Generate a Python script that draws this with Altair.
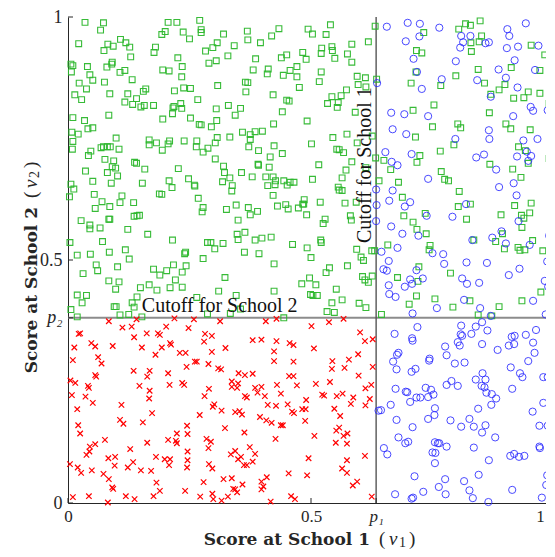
import altair as alt
import pandas as pd

# Cutoffs
P1 = 0.634
P2 = 0.381

# Students admitted to School 2 only region (green squares)
GREEN = [
    (0.035,0.989),(0.073,0.988),(0.067,0.973),(0.022,0.945),(0.108,0.954),(0.082,0.944),(0.119,0.947),(0.093,0.940),
    (0.127,0.938),(0.074,0.931),(0.006,0.903),(0.010,0.900),(0.007,0.887),(0.040,0.898),(0.091,0.907),(0.080,0.897),
    (0.090,0.903),(0.107,0.886),(0.117,0.890),(0.045,0.881),(0.051,0.870),(0.023,0.864),(0.075,0.866),(0.132,0.871),
    (0.038,0.852),(0.014,0.840),(0.028,0.830),(0.086,0.842),(0.123,0.842),(0.141,0.832),(0.117,0.825),(0.133,0.820),
    (0.150,0.815),(0.157,0.818),(0.155,0.847),(0.160,0.852),(0.176,0.818),(0.129,0.918),(0.180,0.938),(0.177,0.927),
    (0.193,0.964),(0.200,0.970),(0.206,0.989),(0.224,0.989),(0.237,0.969),(0.250,0.955),(0.226,0.916),(0.235,0.898),
    (0.195,0.891),(0.208,0.889),(0.234,0.877),(0.238,0.854),(0.252,0.853),(0.219,0.848),(0.232,0.822),(0.218,0.816),
    (0.216,0.813),(0.234,0.812),(0.215,0.801),(0.195,0.790),(0.252,0.792),(0.010,0.793),(0.034,0.787),(0.041,0.770),
    (0.051,0.772),(0.084,0.798),(0.008,0.763),(0.021,0.759),(0.010,0.744),(0.009,0.728),(0.099,0.751),(0.068,0.731),
    (0.073,0.733),(0.081,0.733),(0.087,0.733),(0.105,0.728),(0.047,0.724),(0.042,0.715),(0.076,0.707),(0.094,0.704),
    (0.091,0.692),(0.098,0.689),(0.081,0.680),(0.102,0.673),(0.137,0.701),(0.141,0.699),(0.158,0.687),(0.036,0.683),
    (0.167,0.747),(0.167,0.737),(0.182,0.741),(0.206,0.739),(0.209,0.745),(0.194,0.726),(0.239,0.745),(0.227,0.688),
    (0.006,0.656),(0.012,0.646),(0.051,0.662),(0.089,0.658),(0.153,0.658),(0.208,0.663),(0.214,0.649),(0.248,0.667),
    (0.260,0.654),
    (0.271,0.993),(0.274,0.974),(0.274,0.968),(0.320,0.965),(0.369,0.971),(0.370,0.953),(0.434,0.976),(0.419,0.961),
    (0.396,0.947),(0.307,0.947),(0.298,0.937),(0.283,0.930),(0.342,0.941),(0.329,0.920),(0.305,0.910),(0.290,0.905),
    (0.386,0.914),(0.381,0.891),(0.412,0.893),(0.410,0.883),(0.439,0.916),(0.450,0.922),(0.443,0.880),(0.457,0.890),
    (0.471,0.898),(0.471,0.877),(0.476,0.855),(0.308,0.859),(0.365,0.866),(0.370,0.865),(0.366,0.846),(0.422,0.840),
    (0.450,0.829),(0.455,0.827),(0.441,0.805),(0.267,0.830),(0.305,0.811),(0.330,0.818),(0.355,0.812),(0.344,0.798),
    (0.306,0.787),(0.295,0.774),(0.270,0.779),(0.274,0.778),(0.423,0.780),(0.359,0.763),(0.385,0.764),(0.400,0.765),
    (0.375,0.758),(0.375,0.748),(0.333,0.753),(0.307,0.752),(0.303,0.741),(0.265,0.745),(0.264,0.733),(0.288,0.730),
    (0.278,0.722),(0.372,0.733),(0.392,0.725),(0.424,0.735),(0.441,0.719),(0.416,0.712),(0.303,0.708),(0.320,0.693),
    (0.322,0.680),(0.333,0.669),(0.318,0.661),(0.338,0.653),(0.357,0.680),(0.379,0.671),(0.391,0.697),(0.392,0.695),
    (0.414,0.691),(0.407,0.671),(0.422,0.671),(0.427,0.663),(0.426,0.655),(0.411,0.653),(0.444,0.663),(0.457,0.660),
    (0.465,0.660),(0.451,0.654),(0.261,0.652),
    (0.494,0.975),(0.503,0.965),(0.540,0.984),(0.531,0.964),(0.483,0.927),(0.490,0.913),(0.522,0.936),(0.521,0.925),
    (0.543,0.939),(0.544,0.931),(0.549,0.915),(0.575,0.924),(0.584,0.944),(0.584,0.907),(0.618,0.949),(0.632,0.981),
    (0.521,0.887),(0.517,0.867),(0.595,0.878),(0.612,0.875),(0.613,0.856),(0.597,0.861),(0.573,0.850),(0.543,0.836),
    (0.562,0.838),(0.534,0.822),(0.556,0.824),(0.554,0.814),(0.591,0.804),(0.492,0.786),(0.545,0.752),(0.574,0.759),
    (0.595,0.741),(0.626,0.755),(0.501,0.739),(0.553,0.728),(0.558,0.727),(0.567,0.721),(0.584,0.702),(0.516,0.696),
    (0.503,0.666),(0.564,0.669),(0.572,0.685),(0.613,0.690),(0.556,0.650),(0.635,0.872),(0.640,0.663),(0.650,0.705),
    (0.664,0.686),(0.680,0.660),(0.633,0.710),(0.732,0.968),(0.717,0.931),(0.728,0.926),(0.706,0.864),(0.716,0.887),
    (0.767,0.859),(0.710,0.808),(0.753,0.819),(0.750,0.774),(0.715,0.753),(0.724,0.715),(0.718,0.701),(0.766,0.724),
    (0.768,0.682),(0.775,0.666),(0.783,0.663),(0.804,0.975),(0.818,0.986),(0.828,0.983),(0.848,0.992),(0.851,0.961),
    (0.829,0.947),(0.830,0.929),(0.846,0.949),(0.798,0.879),(0.844,0.892),(0.857,0.864),(0.870,0.841),(0.887,0.850),
    (0.899,0.861),(0.912,0.896),(0.917,0.833),(0.947,0.846),(0.971,0.843),(0.938,0.834),(0.990,0.822),(0.953,0.942),
    (0.981,0.922),(0.971,0.890),(0.867,0.803),(0.802,0.780),(0.808,0.772),(0.901,0.780),(0.911,0.770),(0.951,0.768),
    (0.794,0.737),(0.927,0.733),(0.941,0.725),(0.947,0.699),(0.915,0.687),(0.932,0.670),(0.868,0.697),(0.990,0.709),
    (0.003,0.630),(0.054,0.635),(0.111,0.632),(0.070,0.620),(0.086,0.610),(0.107,0.618),(0.135,0.618),(0.056,0.606),
    (0.027,0.581),(0.045,0.572),(0.045,0.564),(0.066,0.566),(0.084,0.584),(0.086,0.584),(0.123,0.563),(0.136,0.590),
    (0.142,0.591),(0.147,0.592),(0.164,0.553),(0.071,0.538),(0.004,0.536),(0.019,0.510),(0.046,0.512),(0.085,0.516),
    (0.118,0.521),(0.126,0.502),(0.058,0.490),(0.061,0.478),(0.102,0.486),(0.031,0.472),(0.084,0.457),(0.105,0.455),
    (0.098,0.440),(0.149,0.443),(0.167,0.449),
    (0.019,0.428),(0.038,0.427),(0.029,0.412),(0.006,0.398),(0.019,0.383),(0.095,0.404),(0.099,0.404),(0.107,0.387),
    (0.125,0.388),(0.132,0.412),(0.142,0.424),(0.136,0.403),(0.152,0.383),
    (0.193,0.635),(0.188,0.636),(0.268,0.627),(0.278,0.608),(0.276,0.599),(0.326,0.604),(0.346,0.613),(0.371,0.608),
    (0.375,0.593),(0.390,0.600),(0.350,0.582),(0.337,0.642),(0.422,0.633),(0.431,0.611),(0.448,0.614),(0.453,0.605),
    (0.474,0.607),(0.483,0.615),(0.486,0.624),(0.485,0.615),(0.491,0.593),(0.519,0.619),(0.570,0.617),(0.593,0.619),
    (0.558,0.644),(0.564,0.643),(0.525,0.575),(0.529,0.584),(0.581,0.591),(0.583,0.582),(0.215,0.541),(0.287,0.536),
    (0.294,0.536),(0.302,0.523),(0.319,0.534),(0.348,0.553),(0.364,0.557),(0.350,0.542),(0.385,0.541),(0.399,0.545),
    (0.418,0.547),(0.462,0.532),(0.492,0.525),(0.520,0.541),(0.521,0.536),(0.500,0.505),(0.363,0.516),(0.393,0.513),
    (0.278,0.503),(0.242,0.516),(0.240,0.513),(0.424,0.492),(0.594,0.522),(0.608,0.499),(0.603,0.506),(0.625,0.519),
    (0.631,0.519),(0.217,0.490),(0.203,0.478),(0.176,0.481),(0.189,0.469),(0.235,0.475),(0.243,0.488),(0.221,0.459),
    (0.235,0.444),(0.210,0.443),(0.183,0.438),(0.323,0.464),(0.310,0.436),(0.346,0.427),(0.424,0.436),(0.481,0.451),
    (0.497,0.463),(0.510,0.449),(0.499,0.429),(0.504,0.427),(0.513,0.427),(0.538,0.484),(0.531,0.474),(0.575,0.488),
    (0.552,0.440),(0.564,0.418),(0.543,0.412),(0.533,0.394),(0.548,0.392),(0.599,0.411),(0.613,0.402),(0.606,0.466),
    (0.611,0.459),(0.618,0.454),(0.626,0.467),(0.265,0.423),(0.287,0.389),(0.334,0.390),(0.355,0.399),(0.444,0.381),
    (0.645,0.388),(0.658,0.531),
    (0.688,0.629),(0.691,0.591),(0.710,0.578),(0.718,0.563),(0.737,0.554),(0.735,0.596),(0.745,0.530),(0.743,0.521),
    (0.805,0.641),(0.803,0.610),(0.828,0.615),(0.820,0.584),(0.891,0.593),(0.919,0.612),(0.933,0.592),(0.938,0.586),
    (0.934,0.567),(0.950,0.597),(0.953,0.617),(0.992,0.608),(0.835,0.541),(0.880,0.538),(0.894,0.554),(0.898,0.523),
    (0.926,0.526),(0.930,0.520),(0.940,0.521),(0.956,0.540),(0.977,0.519),(0.722,0.486),(0.720,0.456),(0.678,0.464),
    (0.787,0.473),
    (0.717,0.426),(0.702,0.409),(0.755,0.420),(0.792,0.403),(0.827,0.416),(0.844,0.387),(0.872,0.385),(0.887,0.404),
    (0.934,0.416),(0.973,0.434),
]

# Students with score above School 1 cutoff (blue circles)
BLUE = [
    (0.656,0.980),(0.699,0.988),(0.724,0.986),(0.764,0.978),(0.723,0.960),(0.695,0.950),(0.711,0.914),(0.809,0.961),
    (0.828,0.961),(0.813,0.948),(0.807,0.937),(0.859,0.946),(0.866,0.948),(0.904,0.975),(0.908,0.961),(0.942,0.987),
    (0.903,0.936),(0.926,0.939),(0.968,0.941),(0.798,0.909),(0.919,0.911),(0.886,0.892),(0.961,0.891),(0.901,0.875),
    (0.925,0.855),(0.842,0.870),(0.769,0.872),(0.728,0.852),(0.718,0.887),(0.636,0.864),(0.870,0.836),(0.665,0.803),
    (0.692,0.800),(0.741,0.796),(0.668,0.769),(0.696,0.759),(0.797,0.749),(0.866,0.767),(0.867,0.749),(0.916,0.796),
    (0.952,0.815),(0.957,0.807),(0.987,0.808),(0.937,0.746),(0.966,0.749),(0.653,0.722),(0.666,0.702),(0.678,0.695),
    (0.707,0.718),(0.741,0.667),(0.840,0.711),(0.856,0.717),(0.881,0.686),(0.924,0.713),(0.944,0.723),(0.953,0.714),
    (0.947,0.704),(0.887,0.650),(0.917,0.658),(0.634,0.645),
    (0.661,0.622),(0.635,0.613),(0.634,0.580),(0.665,0.569),(0.645,0.517),(0.660,0.498),(0.649,0.481),(0.656,0.478),
    (0.660,0.448),(0.661,0.430),(0.668,0.643),
    (0.678,0.525),(0.704,0.619),(0.693,0.610),(0.738,0.591),(0.791,0.589),(0.819,0.615),(0.923,0.633),(0.927,0.580),
    (0.997,0.589),(0.688,0.554),(0.721,0.550),(0.750,0.514),(0.772,0.512),(0.774,0.492),(0.832,0.541),(0.873,0.546),
    (0.892,0.559),(0.901,0.534),(0.950,0.531),(0.990,0.550),(0.820,0.495),(0.862,0.494),(0.929,0.482),(0.986,0.497),
    (0.907,0.469),(0.811,0.462),(0.821,0.451),(0.846,0.453),(0.717,0.479),(0.730,0.462),(0.704,0.460),(0.708,0.451),
    (0.693,0.445),(0.981,0.457),(0.988,0.445),
    (0.674,0.424),(0.709,0.390),(0.759,0.401),(0.815,0.418),(0.848,0.401),(0.870,0.385),(0.957,0.416),(0.983,0.388),
    (0.993,0.417),
    (0.672,0.348),(0.719,0.362),(0.708,0.339),(0.709,0.334),(0.680,0.309),(0.677,0.305),(0.669,0.291),(0.676,0.275),
    (0.707,0.270),(0.715,0.276),(0.744,0.297),(0.743,0.293),(0.776,0.322),(0.779,0.304),(0.796,0.287),(0.816,0.289),
    (0.809,0.365),(0.808,0.347),(0.811,0.344),(0.802,0.331),(0.806,0.324),(0.830,0.348),(0.839,0.363),(0.852,0.372),
    (0.863,0.355),(0.852,0.327),(0.884,0.315),(0.907,0.324),(0.918,0.327),(0.913,0.342),(0.919,0.344),(0.942,0.346),
    (0.957,0.330),(0.963,0.356),(0.960,0.309),(0.947,0.292),(0.996,0.374),(0.996,0.296),(0.911,0.279),(0.930,0.267),
    (0.935,0.259),(0.987,0.259),(0.978,0.259),(0.956,0.188),(0.978,0.206),(0.970,0.159),(0.987,0.159),(0.993,0.104),
    (0.970,0.116),(0.971,0.113),(0.986,0.057),(0.984,0.037),(0.975,0.011),(0.993,0.013),(0.914,0.027),(0.866,0.088),
    (0.910,0.097),(0.928,0.095),(0.939,0.097),(0.918,0.101),(0.845,0.058),(0.815,0.045),(0.826,0.026),(0.833,0.010),
    (0.865,0.002),(0.776,0.049),(0.763,0.033),(0.777,0.018),(0.731,0.023),(0.710,0.011),(0.707,0.009),(0.713,0.055),
    (0.673,0.018),(0.755,0.082),(0.756,0.103),(0.750,0.104),(0.764,0.123),(0.761,0.123),(0.779,0.116),(0.755,0.125),
    (0.700,0.126),(0.694,0.123),(0.680,0.135),(0.650,0.113),(0.657,0.100),(0.676,0.171),(0.709,0.156),(0.741,0.173),
    (0.754,0.181),(0.755,0.195),(0.787,0.170),(0.809,0.157),(0.826,0.173),(0.835,0.157),(0.852,0.145),(0.859,0.160),
    (0.879,0.135),(0.835,0.114),(0.844,0.194),(0.853,0.267),(0.859,0.254),(0.861,0.227),(0.857,0.238),(0.881,0.215),
    (0.871,0.202),(0.851,0.241),(0.839,0.254),(0.872,0.224),(0.802,0.241),(0.789,0.251),(0.779,0.243),(0.752,0.223),
    (0.741,0.218),(0.747,0.233),(0.736,0.237),(0.725,0.217),(0.717,0.217),(0.704,0.208),(0.695,0.229),(0.698,0.228),
    (0.674,0.235),(0.644,0.191),(0.639,0.190),(0.664,0.202),(0.914,0.235),
]

# Students below both cutoffs (red crosses)
RED = [
    (0.084,0.374),(0.112,0.361),(0.131,0.363),(0.141,0.378),(0.162,0.349),(0.185,0.349),(0.189,0.346),(0.136,0.341),
    (0.202,0.363),(0.219,0.380),(0.248,0.360),(0.259,0.378),(0.025,0.349),(0.022,0.348),(0.048,0.329),(0.056,0.322),
    (0.013,0.320),(0.092,0.323),(0.152,0.320),(0.180,0.305),(0.193,0.320),(0.210,0.329),(0.212,0.326),(0.010,0.294),
    (0.062,0.300),(0.069,0.287),(0.230,0.309),(0.242,0.309),(0.244,0.280),(0.261,0.291),(0.135,0.272),(0.168,0.272),
    (0.163,0.260),(0.206,0.267),(0.209,0.243),(0.147,0.241),(0.168,0.231),(0.235,0.247),(0.239,0.243),(0.005,0.252),
    (0.015,0.247),(0.008,0.222),(0.041,0.241),(0.043,0.237),(0.056,0.263),(0.058,0.260),(0.036,0.219),(0.051,0.206),
    (0.019,0.193),(0.110,0.202),(0.167,0.215),(0.173,0.185),(0.154,0.166),(0.107,0.171),(0.114,0.163),(0.021,0.160),
    (0.025,0.143),(0.076,0.130),(0.045,0.116),(0.056,0.121),(0.044,0.106),(0.038,0.099),(0.163,0.124),(0.128,0.111),
    (0.206,0.130),(0.224,0.143),(0.224,0.123),(0.222,0.128),(0.245,0.159),(0.246,0.142),(0.246,0.106),(0.246,0.088),
    (0.245,0.073),(0.181,0.095),(0.199,0.090),(0.210,0.090),(0.208,0.078),(0.083,0.092),(0.097,0.095),(0.096,0.077),
    (0.004,0.080),(0.020,0.073),(0.027,0.062),(0.049,0.067),(0.073,0.060),(0.084,0.049),(0.091,0.032),(0.093,0.029),
    (0.134,0.084),(0.123,0.073),(0.150,0.067),(0.171,0.066),(0.182,0.042),(0.189,0.025),(0.241,0.025),(0.176,0.014),
    (0.119,0.014),(0.137,0.008),(0.082,0.001),(0.043,0.014),(0.010,0.012),
    (0.313,0.374),(0.407,0.374),(0.429,0.379),(0.282,0.348),(0.296,0.344),(0.280,0.332),(0.296,0.311),(0.324,0.319),
    (0.380,0.335),(0.398,0.336),(0.429,0.333),(0.424,0.312),(0.424,0.292),(0.456,0.329),(0.464,0.325),(0.464,0.291),
    (0.265,0.291),(0.289,0.286),(0.309,0.277),(0.315,0.275),(0.351,0.267),(0.364,0.263),(0.380,0.266),(0.337,0.250),
    (0.337,0.239),(0.350,0.246),(0.348,0.237),(0.290,0.235),(0.281,0.220),(0.385,0.237),(0.398,0.239),(0.390,0.227),
    (0.405,0.220),(0.430,0.243),(0.438,0.225),(0.455,0.261),(0.464,0.261),(0.471,0.242),(0.271,0.181),(0.301,0.203),
    (0.298,0.198),(0.316,0.190),(0.344,0.187),(0.353,0.189),(0.358,0.182),(0.364,0.220),(0.368,0.217),(0.395,0.177),
    (0.408,0.170),(0.419,0.165),(0.411,0.202),(0.428,0.200),(0.452,0.203),(0.461,0.188),(0.465,0.185),(0.438,0.160),
    (0.442,0.160),(0.323,0.154),(0.363,0.145),(0.285,0.132),(0.294,0.126),(0.289,0.113),(0.427,0.132),(0.335,0.100),
    (0.344,0.107),(0.350,0.090),(0.356,0.095),(0.374,0.115),(0.385,0.101),(0.380,0.085),(0.362,0.078),(0.368,0.078),
    (0.290,0.080),(0.297,0.071),(0.279,0.043),(0.320,0.049),(0.337,0.051),(0.359,0.038),(0.340,0.029),(0.344,0.028),
    (0.348,0.022),(0.398,0.044),(0.409,0.053),(0.402,0.034),(0.398,0.028),(0.454,0.061),(0.272,0.013),(0.297,0.019),
    (0.299,0.008),(0.329,0.013),(0.316,0.005),(0.417,0.003),(0.459,0.014),(0.467,0.008),
    (0.537,0.372),(0.567,0.379),(0.501,0.364),(0.601,0.351),(0.611,0.333),(0.627,0.337),(0.506,0.318),(0.544,0.292),
    (0.543,0.276),(0.569,0.278),(0.578,0.295),(0.597,0.306),(0.598,0.262),(0.627,0.280),(0.510,0.245),(0.539,0.249),
    (0.523,0.223),(0.527,0.221),(0.553,0.220),(0.565,0.225),(0.587,0.217),(0.612,0.236),(0.624,0.243),(0.621,0.214),
    (0.612,0.201),(0.582,0.204),(0.490,0.212),(0.489,0.193),(0.482,0.193),(0.488,0.169),(0.548,0.194),(0.560,0.179),
    (0.507,0.138),(0.552,0.149),(0.558,0.155),(0.575,0.143),(0.567,0.138),(0.551,0.124),(0.574,0.122),(0.611,0.097),
    (0.495,0.092),(0.574,0.088),(0.564,0.071),(0.574,0.062),(0.586,0.036),(0.595,0.044),(0.492,0.057),(0.625,0.013),
]

# Axis ticks and labels
X_TICKS = [0, 0.5, P1, 1]
Y_TICKS = [0, P2, 0.5, 1]

green_df = pd.DataFrame(GREEN, columns=["x", "y"])
blue_df = pd.DataFrame(BLUE, columns=["x", "y"])
red_df = pd.DataFrame(RED, columns=["x", "y"])

SERIF = "Liberation Serif"
BOLD = "DejaVu Serif"
AX = "#262626"
W = H = 486

xscale = alt.Scale(domain=[0, 1], nice=False, zero=False)
yscale = alt.Scale(domain=[0, 1], nice=False, zero=False)

xaxis = alt.Axis(
    values=X_TICKS, title=None, grid=False, ticks=False, labelFlush=False, labelOverlap=False,
    labelExpr="datum.value == 0 ? '0' : datum.value == 1 ? '1' : datum.value == 0.5 ? '0.5' : 'p\u2081'",
    labelFontStyle=alt.condition("datum.value > 0.55 && datum.value < 0.7", alt.value("italic"), alt.value("normal")),
    labelOffset=alt.condition("datum.value > 0.9", alt.value(-14), alt.value(0)),
    labelFont=SERIF, labelFontSize=17, labelColor=AX, labelPadding=5,
    domainColor=AX, domainWidth=1,
)
yaxis = alt.Axis(
    values=Y_TICKS, title=None, grid=False, ticks=False, labelFlush=False, labelOverlap=False,
    labelExpr="datum.value == 0 ? '0' : datum.value == 1 ? '1' : datum.value == 0.5 ? '0.5' : 'p\u2082'",
    labelFontStyle=alt.condition("datum.value > 0.3 && datum.value < 0.45", alt.value("italic"), alt.value("normal")),
    labelFont=SERIF, labelFontSize=18, labelColor=AX, labelPadding=6,
    domainColor=AX, domainWidth=1,
)
X = alt.X("x:Q", scale=xscale, axis=xaxis)
Y = alt.Y("y:Q", scale=yscale, axis=yaxis)

cut_v = alt.Chart(pd.DataFrame({"x": [P1], "y": [0.0], "y2": [1.0]})).mark_rule(
    color="#555555", strokeWidth=1.4).encode(x=X, y=Y, y2="y2:Q")
cut_h = alt.Chart(pd.DataFrame({"x": [0.0], "x2": [1.0], "y": [P2]})).mark_rule(
    color="#8c8c8c", strokeWidth=2).encode(x=X, x2="x2:Q", y=Y)

green = alt.Chart(green_df).mark_point(
    shape="square", filled=False, size=34, strokeWidth=1.1, color="#2db82d", opacity=0.95
).encode(x=X, y=Y)
blue = alt.Chart(blue_df).mark_point(
    shape="circle", filled=False, size=52, strokeWidth=1.0, color="#2a2aff", opacity=0.85
).encode(x=X, y=Y)
red = alt.Chart(red_df).mark_point(
    shape="M-1,-1L1,1M-1,1L1,-1", filled=False, size=30, strokeWidth=1.2, color="#ff0000", opacity=1
).encode(x=X, y=Y)

xt = alt.Chart(pd.DataFrame({"x": X_TICKS})).mark_rule(color=AX, strokeWidth=1).encode(
    x=X, y=alt.value(H), y2=alt.value(H - 5))
yt = alt.Chart(pd.DataFrame({"y": Y_TICKS})).mark_rule(color=AX, strokeWidth=1).encode(
    y=Y, x=alt.value(0), x2=alt.value(5))

ann2 = alt.Chart(pd.DataFrame({"x": [0.152], "y": [P2], "t": ["Cutoff for School 2"]})).mark_text(
    font=SERIF, fontSize=20, align="left", baseline="alphabetic", dy=-6, color="#111111"
).encode(x=X, y=Y, text="t:N")
ann1 = alt.Chart(pd.DataFrame({"x": [P1], "y": [0.535], "t": ["Cutoff for School 1"]})).mark_text(
    font=SERIF, fontSize=20, align="left", baseline="alphabetic", angle=270, dy=-5, color="#111111"
).encode(x=X, y=Y, text="t:N")

one = pd.DataFrame({"a": [0]})


def label(text, x, y, size=19, weight="normal", style="normal", align="left", angle=0, font=SERIF):
    return alt.Chart(one).mark_text(
        font=font, fontSize=size, fontWeight=weight, fontStyle=style, align=align,
        baseline="alphabetic", angle=angle, color=AX
    ).encode(x=alt.value(x), y=alt.value(y), text=alt.value(text))


# x axis title: Score at School 1 (v1)
TY = 527.5
xt_parts = [
    label("Score at School 1", 302, TY, size=17, weight="bold", align="right", font=BOLD),
    label("(", 311, TY),
    label("v", 321, TY, style="italic"),
    label("1", 331, TY + 2, size=14),
    label(")", 341, TY),
]
# y axis title: Score at School 2 (v2), rotated
yt_parts = [
    label("Score at School 2", -31, 190, size=17, weight="bold", align="right", angle=270, font=BOLD),
    label("(", -31, 181, angle=270),
    label("v", -31, 171, style="italic", angle=270),
    label("2", -29, 161, size=14, angle=270),
    label(")", -31, 151, angle=270),
]

chart = alt.layer(
    cut_h, cut_v, green, blue, red, xt, yt, ann1, ann2, *xt_parts, *yt_parts
).properties(
    width=W, height=H,
    autosize=alt.AutoSizeParams(type="none"),
    padding={"left": 60, "top": 9, "right": -8, "bottom": 46},
).configure_view(stroke=None)

chart.save("out.html", embed_options={"renderer": "svg", "actions": False})
